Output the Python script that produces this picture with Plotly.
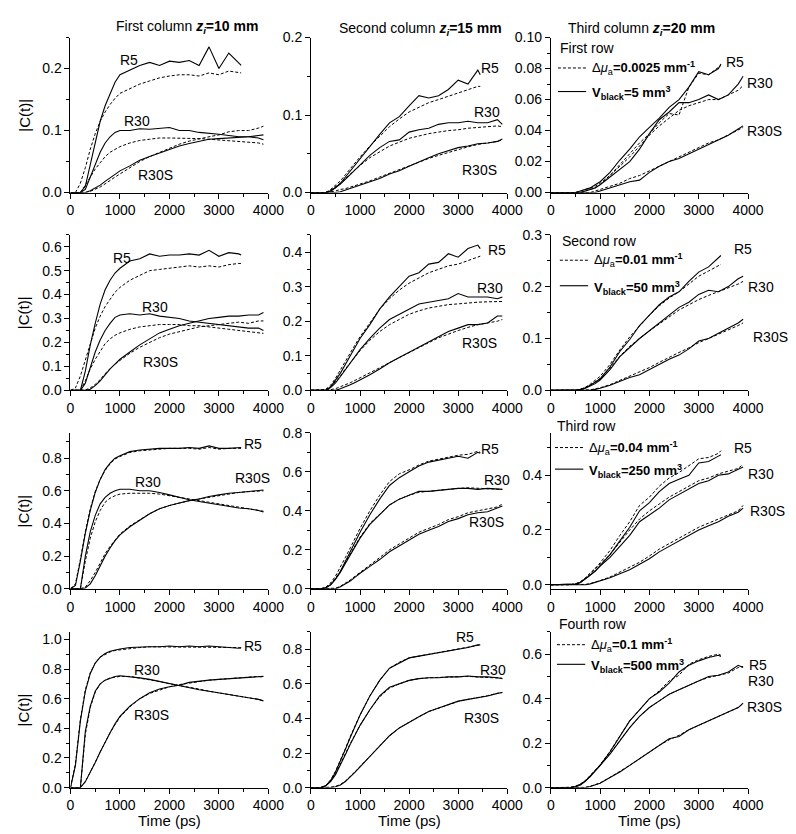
import plotly.graph_objects as go

W, H = 796, 834

# time grids (ps)
T_R5 = [0, 100, 200, 300, 400, 500, 600, 700, 800, 900, 1000,
        1200, 1400, 1600, 1800, 2000, 2200, 2400, 2600, 2800, 3000, 3200, 3400, 3450]
T_R30 = [0, 100, 200, 300, 400, 500, 600, 700, 800, 900, 1000,
         1200, 1400, 1600, 1800, 2000, 2200, 2400, 2600, 2800, 3000, 3200, 3400, 3600, 3800, 3900]

# ---------- Row 1 ----------
P11_R5_S = [0,0,0,0.01,0.045,0.085,0.115,0.14,0.16,0.178,0.19, 0.198,0.205,0.21,0.205,0.212,0.21,0.213,0.205,0.235,0.2,0.225,0.21,0.205]
P11_R5_D = [0,0,0.015,0.04,0.07,0.095,0.115,0.13,0.142,0.152,0.16, 0.168,0.175,0.18,0.185,0.188,0.19,0.19,0.188,0.193,0.19,0.196,0.194,0.193]
P11_R30_S = [0,0,0,0.005,0.025,0.045,0.065,0.08,0.09,0.097,0.1, 0.1,0.103,0.102,0.104,0.105,0.1,0.1,0.097,0.096,0.094,0.092,0.09,0.09,0.088,0.085]
P11_R30_D = [0,0,0,0.012,0.025,0.038,0.048,0.058,0.065,0.07,0.074, 0.08,0.084,0.086,0.088,0.088,0.088,0.088,0.087,0.086,0.085,0.084,0.083,0.082,0.08,0.078]
P11_R30S_S = [0,0,0,0,0.003,0.007,0.012,0.018,0.024,0.03,0.035, 0.043,0.052,0.058,0.064,0.07,0.075,0.079,0.083,0.086,0.087,0.088,0.088,0.09,0.092,0.093]
P11_R30S_D = [0,0,0,0,0.002,0.005,0.009,0.014,0.02,0.025,0.03, 0.04,0.05,0.058,0.065,0.072,0.078,0.083,0.087,0.09,0.093,0.098,0.1,0.1,0.104,0.107]

P12_R5_S = [0,0,0,0,0.002,0.006,0.012,0.02,0.028,0.036,0.044, 0.06,0.075,0.09,0.098,0.112,0.125,0.122,0.125,0.133,0.145,0.14,0.158,0.152]
P12_R5_D = [0,0,0,0,0.004,0.009,0.015,0.023,0.031,0.039,0.046, 0.06,0.073,0.085,0.095,0.104,0.11,0.116,0.12,0.124,0.128,0.133,0.137,0.137]
P12_R30_S = [0,0,0,0,0.002,0.006,0.011,0.017,0.023,0.03,0.036, 0.048,0.058,0.066,0.068,0.078,0.081,0.083,0.088,0.09,0.09,0.092,0.09,0.09,0.094,0.088]
P12_R30_D = [0,0,0,0,0.003,0.007,0.012,0.018,0.024,0.03,0.035, 0.045,0.053,0.06,0.065,0.07,0.073,0.076,0.078,0.08,0.081,0.083,0.084,0.085,0.086,0.085]
P12_R30S_S = [0,0,0,0,0,0,0.001,0.003,0.005,0.007,0.009, 0.013,0.018,0.024,0.028,0.034,0.04,0.045,0.05,0.054,0.058,0.06,0.063,0.064,0.066,0.069]
P12_R30S_D = [0,0,0,0,0.001,0.002,0.004,0.005,0.007,0.009,0.011, 0.015,0.02,0.025,0.029,0.034,0.039,0.044,0.048,0.052,0.056,0.059,0.062,0.064,0.066,0.068]

P13_R5_S = [0,0,0,0,0,0,0.001,0.002,0.003,0.005,0.007, 0.013,0.021,0.028,0.036,0.042,0.048,0.055,0.06,0.068,0.078,0.076,0.08,0.083]
P13_R5_D = [0,0,0,0,0,0,0.001,0.002,0.003,0.004,0.006, 0.011,0.018,0.025,0.032,0.038,0.045,0.051,0.05,0.068,0.077,0.076,0.081,0.082]
P13_R30_S = [0,0,0,0,0,0,0,0.001,0.002,0.003,0.005, 0.01,0.015,0.02,0.028,0.038,0.047,0.052,0.058,0.058,0.06,0.063,0.06,0.063,0.07,0.075]
P13_R30_D = [0,0,0,0,0,0,0,0.001,0.002,0.003,0.005, 0.011,0.017,0.023,0.03,0.037,0.043,0.048,0.053,0.056,0.058,0.06,0.06,0.063,0.066,0.069]
P13_R30S_S = [0,0,0,0,0,0,0,0,0,0,0.001, 0.003,0.005,0.007,0.008,0.013,0.017,0.02,0.022,0.025,0.028,0.031,0.034,0.037,0.041,0.043]
P13_R30S_D = [0,0,0,0,0,0,0,0,0,0.001,0.002, 0.004,0.006,0.009,0.011,0.014,0.017,0.02,0.023,0.026,0.029,0.032,0.034,0.037,0.04,0.042]

# ---------- Row 2 ----------
P21_R5_S = [0,0,0,0.08,0.19,0.28,0.36,0.42,0.46,0.49,0.51, 0.54,0.55,0.57,0.56,0.565,0.565,0.57,0.565,0.585,0.56,0.575,0.57,0.565]
P21_R5_D = [0,0.01,0.06,0.13,0.2,0.26,0.31,0.35,0.38,0.41,0.43, 0.46,0.48,0.5,0.505,0.51,0.515,0.52,0.515,0.52,0.515,0.525,0.53,0.53]
P21_R30_S = [0,0,0,0.03,0.1,0.16,0.21,0.25,0.28,0.305,0.315, 0.32,0.315,0.32,0.31,0.305,0.3,0.29,0.285,0.28,0.275,0.27,0.265,0.26,0.26,0.25]
P21_R30_D = [0,0,0,0.04,0.09,0.13,0.165,0.195,0.215,0.23,0.24, 0.255,0.265,0.27,0.275,0.275,0.275,0.27,0.27,0.265,0.26,0.255,0.25,0.245,0.24,0.238]
P21_R30S_S = [0,0,0,0,0.005,0.02,0.04,0.065,0.09,0.11,0.13, 0.16,0.19,0.215,0.24,0.255,0.27,0.28,0.29,0.3,0.305,0.31,0.31,0.315,0.315,0.325]
P21_R30S_D = [0,0,0,0.002,0.01,0.025,0.045,0.07,0.09,0.11,0.125, 0.155,0.18,0.2,0.22,0.235,0.245,0.255,0.265,0.27,0.275,0.28,0.285,0.28,0.29,0.29]

P22_R5_S = [0,0,0,0,0.01,0.03,0.05,0.075,0.1,0.125,0.15, 0.19,0.235,0.27,0.3,0.33,0.34,0.365,0.37,0.395,0.385,0.41,0.42,0.41]
P22_R5_D = [0,0,0,0.003,0.015,0.035,0.058,0.083,0.108,0.132,0.155, 0.195,0.235,0.265,0.29,0.31,0.325,0.34,0.35,0.36,0.365,0.375,0.385,0.388]
P22_R30_S = [0,0,0,0,0.008,0.022,0.04,0.06,0.08,0.1,0.118, 0.15,0.18,0.205,0.22,0.235,0.25,0.255,0.26,0.265,0.28,0.27,0.27,0.27,0.265,0.27]
P22_R30_D = [0,0,0,0.002,0.01,0.025,0.042,0.062,0.08,0.098,0.115, 0.145,0.17,0.19,0.205,0.22,0.23,0.238,0.243,0.248,0.25,0.253,0.255,0.256,0.258,0.257]
P22_R30S_S = [0,0,0,0,0,0,0.005,0.01,0.016,0.023,0.03, 0.045,0.062,0.08,0.095,0.11,0.125,0.14,0.155,0.17,0.18,0.19,0.19,0.195,0.215,0.215]
P22_R30S_D = [0,0,0,0,0.002,0.005,0.01,0.016,0.022,0.029,0.036, 0.05,0.065,0.08,0.095,0.11,0.125,0.138,0.152,0.163,0.173,0.182,0.19,0.195,0.2,0.205]

P23_R5_S = [0,0,0,0,0,0,0.002,0.005,0.01,0.016,0.022, 0.045,0.075,0.098,0.125,0.145,0.165,0.18,0.19,0.21,0.228,0.238,0.255,0.26]
P23_R5_D = [0,0,0,0,0,0,0.002,0.006,0.012,0.019,0.027, 0.05,0.078,0.103,0.125,0.145,0.163,0.178,0.19,0.205,0.22,0.23,0.24,0.243]
P23_R30_S = [0,0,0,0,0,0,0.001,0.004,0.008,0.013,0.02, 0.04,0.065,0.083,0.1,0.115,0.13,0.145,0.16,0.17,0.185,0.193,0.19,0.2,0.215,0.22]
P23_R30_D = [0,0,0,0,0,0,0.002,0.005,0.01,0.016,0.023, 0.043,0.066,0.085,0.1,0.115,0.128,0.142,0.155,0.165,0.175,0.183,0.19,0.197,0.205,0.21]
P23_R30S_S = [0,0,0,0,0,0,0,0,0,0.002,0.004, 0.01,0.017,0.025,0.03,0.04,0.05,0.06,0.068,0.08,0.095,0.1,0.11,0.12,0.13,0.137]
P23_R30S_D = [0,0,0,0,0,0,0,0,0.001,0.003,0.005, 0.011,0.019,0.027,0.035,0.044,0.054,0.064,0.073,0.082,0.092,0.1,0.108,0.117,0.125,0.13]

# ---------- Row 3 ----------
P31_R5_S = [0,0.02,0.17,0.34,0.48,0.59,0.67,0.73,0.77,0.8,0.815, 0.84,0.85,0.855,0.86,0.86,0.86,0.865,0.86,0.875,0.86,0.86,0.865,0.865]
P31_R5_D = [0,0.03,0.18,0.35,0.49,0.595,0.67,0.725,0.765,0.795,0.81, 0.835,0.845,0.85,0.855,0.86,0.86,0.86,0.855,0.865,0.855,0.86,0.86,0.86]
P31_R30_S = [0,0,0,0.2,0.35,0.45,0.52,0.56,0.585,0.6,0.61, 0.61,0.6,0.6,0.59,0.575,0.56,0.545,0.535,0.525,0.515,0.505,0.495,0.49,0.48,0.47]
P31_R30_D = [0,0,0,0.17,0.31,0.41,0.48,0.53,0.555,0.57,0.58, 0.585,0.585,0.585,0.58,0.57,0.56,0.55,0.54,0.53,0.52,0.51,0.5,0.49,0.48,0.475]
P31_R30S_S = [0,0,0,0.005,0.03,0.08,0.14,0.2,0.25,0.295,0.33, 0.38,0.42,0.46,0.49,0.51,0.525,0.54,0.55,0.565,0.575,0.585,0.59,0.595,0.6,0.605]
P31_R30S_D = [0,0,0,0.01,0.05,0.1,0.16,0.215,0.26,0.3,0.335, 0.385,0.425,0.46,0.49,0.51,0.525,0.54,0.55,0.56,0.57,0.58,0.59,0.595,0.6,0.6]

P32_R5_S = [0,0,0,0.005,0.02,0.05,0.09,0.14,0.19,0.24,0.29, 0.38,0.46,0.53,0.57,0.6,0.63,0.65,0.66,0.67,0.68,0.67,0.7,0.695]
P32_R5_D = [0,0,0,0.008,0.03,0.065,0.11,0.16,0.21,0.26,0.31, 0.4,0.48,0.55,0.59,0.61,0.635,0.655,0.665,0.675,0.685,0.69,0.705,0.7]
P32_R30_S = [0,0,0,0.005,0.02,0.05,0.085,0.13,0.175,0.22,0.26, 0.33,0.38,0.43,0.46,0.48,0.5,0.5,0.505,0.51,0.515,0.515,0.51,0.515,0.51,0.51]
P32_R30_D = [0,0,0,0.006,0.024,0.055,0.09,0.135,0.18,0.225,0.265, 0.335,0.385,0.43,0.46,0.48,0.495,0.5,0.508,0.512,0.515,0.518,0.515,0.515,0.512,0.51]
P32_R30S_S = [0,0,0,0,0,0,0.01,0.025,0.04,0.06,0.08, 0.115,0.15,0.19,0.22,0.25,0.28,0.3,0.32,0.345,0.36,0.38,0.39,0.395,0.415,0.425]
P32_R30S_D = [0,0,0,0,0,0.003,0.013,0.028,0.045,0.065,0.085, 0.122,0.16,0.2,0.23,0.26,0.29,0.31,0.33,0.355,0.37,0.39,0.4,0.41,0.42,0.435]

P33_R5_S = [0,0,0,0,0,0.002,0.008,0.02,0.035,0.05,0.07, 0.11,0.16,0.21,0.27,0.3,0.34,0.37,0.385,0.4,0.445,0.45,0.47,0.475]
P33_R5_D = [0,0,0,0,0,0.003,0.01,0.025,0.042,0.06,0.08, 0.125,0.18,0.23,0.29,0.32,0.36,0.39,0.41,0.435,0.46,0.465,0.48,0.49]
P33_R30_S = [0,0,0,0,0,0.002,0.008,0.02,0.035,0.05,0.068, 0.1,0.14,0.18,0.23,0.255,0.28,0.31,0.33,0.35,0.37,0.38,0.4,0.405,0.42,0.43]
P33_R30_D = [0,0,0,0,0,0.003,0.01,0.024,0.04,0.056,0.075, 0.11,0.155,0.2,0.24,0.27,0.295,0.32,0.34,0.36,0.38,0.39,0.405,0.415,0.425,0.44]
P33_R30S_S = [0,0,0,0,0,0,0,0,0.003,0.008,0.013, 0.025,0.04,0.055,0.075,0.095,0.12,0.14,0.16,0.18,0.2,0.215,0.23,0.25,0.265,0.28]
P33_R30S_D = [0,0,0,0,0,0,0,0.001,0.004,0.009,0.015, 0.028,0.045,0.062,0.082,0.105,0.13,0.15,0.17,0.19,0.21,0.225,0.24,0.255,0.27,0.29]

# ---------- Row 4 ----------
P41_R5_S = [0,0.15,0.45,0.65,0.77,0.84,0.88,0.905,0.92,0.93,0.935, 0.945,0.95,0.95,0.95,0.955,0.95,0.955,0.95,0.955,0.95,0.945,0.94,0.945]
P41_R5_D = [0,0.16,0.46,0.66,0.775,0.84,0.88,0.9,0.915,0.925,0.93, 0.94,0.945,0.95,0.95,0.95,0.95,0.95,0.95,0.95,0.95,0.945,0.945,0.94]
P41_R30_S = [0,0,0,0.38,0.55,0.65,0.7,0.725,0.74,0.75,0.755, 0.75,0.74,0.73,0.715,0.7,0.69,0.675,0.66,0.65,0.64,0.63,0.615,0.61,0.595,0.585]
P41_R30_D = [0,0,0,0.36,0.54,0.645,0.7,0.725,0.74,0.745,0.75, 0.75,0.74,0.73,0.715,0.7,0.69,0.675,0.665,0.65,0.64,0.63,0.62,0.61,0.595,0.585]
P41_R30S_S = [0,0,0,0.04,0.1,0.17,0.24,0.31,0.37,0.43,0.48, 0.55,0.6,0.64,0.665,0.68,0.69,0.71,0.72,0.725,0.73,0.735,0.74,0.74,0.745,0.75]
P41_R30S_D = [0,0,0,0.04,0.1,0.17,0.24,0.31,0.37,0.425,0.475, 0.545,0.6,0.635,0.66,0.68,0.695,0.705,0.715,0.725,0.73,0.735,0.74,0.745,0.75,0.745]

P42_R5_S = [0,0,0,0.01,0.04,0.09,0.15,0.22,0.29,0.36,0.42, 0.53,0.62,0.69,0.72,0.75,0.76,0.77,0.78,0.79,0.8,0.81,0.825,0.825]
P42_R5_D = [0,0,0,0.012,0.045,0.095,0.155,0.225,0.295,0.36,0.42, 0.53,0.62,0.69,0.725,0.75,0.76,0.77,0.78,0.79,0.8,0.81,0.82,0.825]
P42_R30_S = [0,0,0,0.01,0.035,0.075,0.13,0.19,0.25,0.31,0.36, 0.45,0.53,0.58,0.6,0.62,0.63,0.635,0.635,0.64,0.64,0.645,0.64,0.64,0.635,0.63]
P42_R30_D = [0,0,0,0.012,0.038,0.08,0.135,0.195,0.255,0.31,0.36, 0.45,0.525,0.575,0.6,0.62,0.63,0.635,0.638,0.64,0.642,0.643,0.64,0.638,0.635,0.632]
P42_R30S_S = [0,0,0,0,0,0.005,0.015,0.035,0.06,0.09,0.12, 0.18,0.24,0.3,0.345,0.38,0.41,0.44,0.46,0.48,0.5,0.51,0.52,0.53,0.545,0.55]
P42_R30S_D = [0,0,0,0,0.002,0.007,0.018,0.038,0.063,0.092,0.122, 0.182,0.242,0.3,0.345,0.38,0.41,0.44,0.46,0.48,0.498,0.51,0.52,0.532,0.545,0.55]

P43_R5_S = [0,0,0,0,0,0.005,0.015,0.03,0.05,0.075,0.1, 0.16,0.23,0.3,0.35,0.4,0.43,0.47,0.52,0.55,0.57,0.585,0.595,0.59]
P43_R5_D = [0,0,0,0,0.001,0.006,0.016,0.032,0.053,0.078,0.103, 0.163,0.232,0.3,0.35,0.4,0.435,0.48,0.505,0.555,0.575,0.59,0.6,0.595]
P43_R30_S = [0,0,0,0,0,0.004,0.012,0.028,0.05,0.075,0.1, 0.15,0.21,0.27,0.32,0.36,0.39,0.42,0.44,0.46,0.48,0.5,0.505,0.52,0.55,0.54]
P43_R30_D = [0,0,0,0,0.001,0.005,0.013,0.03,0.052,0.077,0.102, 0.152,0.212,0.27,0.32,0.36,0.39,0.42,0.44,0.46,0.48,0.495,0.505,0.515,0.54,0.545]
P43_R30S_S = [0,0,0,0,0,0,0,0,0.005,0.012,0.02, 0.045,0.07,0.1,0.13,0.16,0.19,0.22,0.23,0.26,0.28,0.3,0.32,0.34,0.36,0.38]
P43_R30S_D = [0,0,0,0,0,0,0,0.001,0.006,0.013,0.021, 0.046,0.072,0.1,0.13,0.16,0.19,0.215,0.235,0.26,0.28,0.3,0.32,0.34,0.36,0.378]

PANELS = [
    (P11_R5_S, P11_R5_D, P11_R30_S, P11_R30_D, P11_R30S_S, P11_R30S_D),
    (P12_R5_S, P12_R5_D, P12_R30_S, P12_R30_D, P12_R30S_S, P12_R30S_D),
    (P13_R5_S, P13_R5_D, P13_R30_S, P13_R30_D, P13_R30S_S, P13_R30S_D),
    (P21_R5_S, P21_R5_D, P21_R30_S, P21_R30_D, P21_R30S_S, P21_R30S_D),
    (P22_R5_S, P22_R5_D, P22_R30_S, P22_R30_D, P22_R30S_S, P22_R30S_D),
    (P23_R5_S, P23_R5_D, P23_R30_S, P23_R30_D, P23_R30S_S, P23_R30S_D),
    (P31_R5_S, P31_R5_D, P31_R30_S, P31_R30_D, P31_R30S_S, P31_R30S_D),
    (P32_R5_S, P32_R5_D, P32_R30_S, P32_R30_D, P32_R30S_S, P32_R30S_D),
    (P33_R5_S, P33_R5_D, P33_R30_S, P33_R30_D, P33_R30S_S, P33_R30S_D),
    (P41_R5_S, P41_R5_D, P41_R30_S, P41_R30_D, P41_R30S_S, P41_R30S_D),
    (P42_R5_S, P42_R5_D, P42_R30_S, P42_R30_D, P42_R30S_S, P42_R30S_D),
    (P43_R5_S, P43_R5_D, P43_R30_S, P43_R30_D, P43_R30S_S, P43_R30S_D),
]

Y_RANGES = [[0, 0.25], [0, 0.2], [0, 0.1],
            [0, 0.65], [0, 0.45], [0, 0.3],
            [0, 0.955], [0, 0.8], [-0.015, 0.555],
            [0, 1.05], [0, 0.9], [0, 0.7]]
Y_DTICK = [0.1, 0.1, 0.02, 0.1, 0.1, 0.1, 0.2, 0.2, 0.2, 0.2, 0.2, 0.2]
Y_MINOR = [0.05, 0.05, 0.01, 0.05, 0.05, 0.05, 0.1, 0.1, 0.1, 0.1, 0.1, 0.1]
Y_FMT = ['.1f', '.1f', '.2f'] + ['.1f'] * 9

CURVE_LABELS = ['R5', 'R30', 'R30S']
LEGEND_ROWS = ['First row', 'Second row', 'Third row', 'Fourth row']
DMU = ['0.0025', '0.01', '0.04', '0.1']
VBLACK = ['5', '50', '250', '500']
COL_TITLES = ['First column', 'Second column', 'Third column']
Z_VALUES = ['10', '15', '20']

# ---------------- layout geometry (pixels) ----------------
COL_PX = [(60, 263), (306.7, 508), (552.7, 755)]
ROW_PX = [(22, 180), (223, 381.7), (425, 584), (628, 786.7)]

FONT = "Liberation Sans, Arial, Helvetica, sans-serif"


def px_x(x):
    return x / W


def px_y(y):
    return 1 - y / H


fig = go.Figure()
layout = dict(
    width=W, height=H,
    margin=dict(l=0, r=0, t=0, b=0),
    paper_bgcolor='white', plot_bgcolor='white',
    showlegend=False,
    font=dict(family=FONT, color='black', size=14),
)

for k, series in enumerate(PANELS):
    r, c = divmod(k, 3)
    n = k + 1
    xa = 'x' if n == 1 else f'x{n}'
    ya = 'y' if n == 1 else f'y{n}'
    for j, vals in enumerate(series):
        t = T_R5 if j < 2 else T_R30
        dashed = (j % 2 == 1)
        fig.add_trace(go.Scatter(
            x=t, y=vals, mode='lines', xaxis=xa, yaxis=ya,
            line=dict(color='black', width=1 if dashed else 1.1,
                      dash='3px,2px' if dashed else 'solid'),
            hoverinfo='skip', showlegend=False))
    x0, x1 = COL_PX[c]
    y0, y1 = ROW_PX[r]
    axcommon = dict(showline=True, linecolor='black', linewidth=1, showgrid=False,
                    zeroline=False, ticks='outside', ticklen=5, tickwidth=1, tickcolor='black',
                    tickfont=dict(family=FONT, size=14, color='black'))
    layout['xaxis' if n == 1 else f'xaxis{n}'] = dict(
        domain=[px_x(x0), px_x(x1)], anchor=ya, range=[0, 4000],
        tickmode='linear', tick0=0, dtick=1000,
        minor=dict(dtick=500, ticklen=3, ticks='outside', tickcolor='black'),
        **axcommon)
    layout['yaxis' if n == 1 else f'yaxis{n}'] = dict(
        domain=[px_y(y1), px_y(y0)], anchor=xa, range=Y_RANGES[k],
        tickmode='linear', tick0=0, dtick=Y_DTICK[k], tickformat=Y_FMT[k],
        minor=dict(dtick=Y_MINOR[k], ticklen=3, ticks='outside', tickcolor='black'),
        **axcommon)

fig.update_layout(**layout)

ann = []


def add_text(x, y, text, size=14, xanchor='center', yanchor='middle', angle=0):
    ann.append(dict(x=px_x(x), y=px_y(y), xref='paper', yref='paper', text=text,
                    showarrow=False, xanchor=xanchor, yanchor=yanchor, textangle=angle,
                    font=dict(family=FONT, size=size, color='black')))


# curve labels (pixel positions)
LABEL_POS = [
    [(120, 45), (128, 107), (147, 162)],
    [(490, 53), (487, 98), (480, 157)],
    [(742, 47), (767, 68), (772, 117)],
    [(113, 247), (147, 297), (152, 353)],
    [(497, 239), (490, 277), (480, 333)],
    [(750, 238), (768, 276), (778, 327)],
    [(247, 436), (140, 475), (247, 471)],
    [(490, 441), (498, 473), (487, 516)],
    [(750, 440), (768, 467), (775, 505)],
    [(247, 642), (138, 667), (143, 713)],
    [(465, 633), (493, 667), (482, 716)],
    [(765, 662), (768, 678), (772, 705)],
]
for k, poss in enumerate(LABEL_POS):
    for lbl, (x, y) in zip(CURVE_LABELS, poss):
        add_text(x, y, lbl)

# column titles
TITLE_POS = [(180, 11), (419, 13), (646, 13)]
for (x, y), name, z in zip(TITLE_POS, COL_TITLES, Z_VALUES):
    add_text(x, y, f"{name} <b><i>z</i><sub><i>i</i></sub>=" + z + " mm</b>", size=14)

# y-axis titles
for (y0, y1) in ROW_PX:
    add_text(12, (y0 + y1) / 2, "|C(t)|", size=15, angle=-90)

# x-axis titles
for (x0, x1) in COL_PX:
    add_text((x0 + x1) / 2, 820, "Time (ps)", size=15)

# legends in third column
LEG_PX = [(560, 33, 53, 77), (562, 229, 249, 275), (557, 418, 440, 462), (559, 620, 641, 661)]
shapes = []
for i, (lx, ty, dy, sy) in enumerate(LEG_PX):
    add_text(lx, ty, LEGEND_ROWS[i], size=14, xanchor='left')
    shapes.append(dict(type='line', xref='paper', yref='paper',
                       x0=px_x(lx), x1=px_x(lx + 29), y0=px_y(dy), y1=px_y(dy),
                       line=dict(color='black', width=1, dash='3px,2px')))
    shapes.append(dict(type='line', xref='paper', yref='paper',
                       x0=px_x(lx), x1=px_x(lx + 29), y0=px_y(sy), y1=px_y(sy),
                       line=dict(color='black', width=1.1)))
    add_text(lx + 33, dy, "Δ<i>μ</i><sub>a</sub><b>=" + DMU[i] + " mm<sup>-1</sup></b>",
             size=13, xanchor='left')
    add_text(lx + 33, sy + 2, "<b>V<sub>black</sub>=" + VBLACK[i] + " mm<sup>3</sup></b>",
             size=13, xanchor='left')

fig.update_layout(annotations=ann, shapes=shapes)
fig.write_html("out.html")
